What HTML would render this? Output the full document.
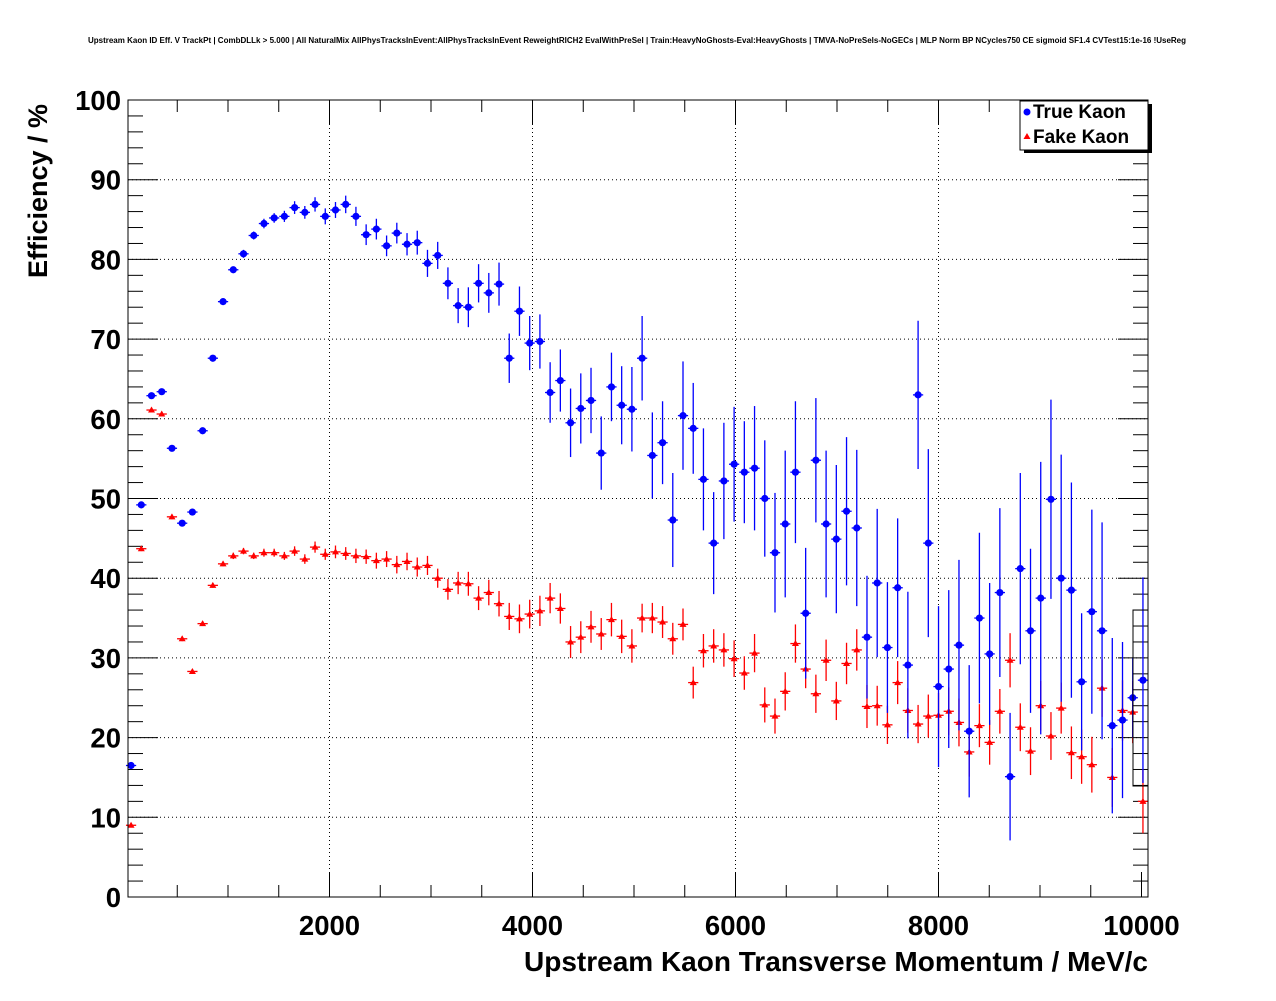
<!DOCTYPE html>
<html><head><meta charset="utf-8"><style>
html,body{margin:0;padding:0;background:#fff;}
svg text{font-family:"Liberation Sans",Arial,sans-serif;}
</style></head><body>
<svg id="chart" width="1276" height="996" viewBox="0 0 1276 996" xmlns="http://www.w3.org/2000/svg">
<rect x="0" y="0" width="1276" height="996" fill="#fff"/>
<text x="637" y="43" font-size="8" font-weight="bold" text-anchor="middle">Upstream Kaon ID Eff. V TrackPt | CombDLLk &gt; 5.000 | All NaturalMix AllPhysTracksInEvent:AllPhysTracksInEvent ReweightRICH2 EvalWithPreSel | Train:HeavyNoGhosts-Eval:HeavyGhosts | TMVA-NoPreSels-NoGECs | MLP Norm BP NCycles750 CE sigmoid SF1.4 CVTest15:1e-16 !UseReg</text>
<g id="grid"></g>
<g id="axes"></g>
<g id="series"></g>
<rect x="128" y="100" width="1020" height="797" fill="none" stroke="#000" stroke-width="1"/>
<rect x="1133" y="610" width="15" height="176" fill="none" stroke="#000" stroke-width="1"/>
<text transform="translate(47,278) rotate(-90)" font-size="27" font-weight="bold">Efficiency / %</text>
<text x="1148" y="971" font-size="28" font-weight="bold" text-anchor="end">Upstream Kaon Transverse Momentum / MeV/c</text>
<g>
<rect x="1024" y="104" width="128" height="49" fill="#000"/>
<rect x="1020" y="101" width="128" height="49" fill="#fff" stroke="#000" stroke-width="1"/>
<circle cx="1027" cy="112" r="3.5" fill="#0000ff"/>
<text x="1033" y="118" font-size="19" font-weight="bold">True Kaon</text>
<polygon points="1027,133 1023.5,139 1030.5,139" fill="#ff0000"/>
<text x="1033" y="143" font-size="19" font-weight="bold">Fake Kaon</text>
</g>
</svg>
<script>
const trueVals=[16.5,49.2,62.9,63.4,56.3,46.9,48.3,58.5,67.6,74.7,78.7,80.7,83.0,84.5,85.2,85.4,86.5,85.9,86.9,85.4,86.2,86.9,85.4,83.1,83.8,
81.7,83.3,81.9,82.1,79.5,80.5,77.0,74.2,74.0,77.0,75.8,76.9,67.6,73.5,69.5,69.7,63.3,64.8,59.5,61.3,62.3,55.7,64.0,61.7,61.2,
67.6,55.4,57.0,47.3,60.4,58.8,52.4,44.4,52.2,54.3,53.3,53.8,50.0,43.2,46.8,53.3,35.6,54.8,46.8,44.9,48.4,46.3,32.6,39.4,31.3,
38.8,29.1,63.0,44.4,26.4,28.6,31.6,20.8,35.0,30.5,38.2,15.1,41.2,33.4,37.5,49.9,40.0,38.5,27.0,35.8,33.4,21.5,22.2,25.0,27.2];
const trueErrs=[0.3,0.4,0.4,0.4,0.4,0.4,0.4,0.4,0.4,0.4,0.4,0.5,0.5,0.6,0.6,0.7,0.8,0.8,0.9,1.0,1.0,1.1,1.2,1.3,1.3,
1.3,1.3,1.4,1.5,1.7,1.7,2.0,2.2,2.5,2.4,2.5,2.7,3.1,3.1,3.4,3.4,3.8,3.9,4.3,4.4,4.1,4.6,4.3,4.9,5.3,
5.3,5.4,5.2,5.9,6.8,5.7,6.4,6.4,7.3,7.2,6.4,7.8,7.3,7.5,9.2,8.9,8.2,7.8,9.2,9.3,9.3,9.8,7.7,9.3,8.2,
8.7,9.2,9.3,11.8,10.1,9.9,10.7,8.3,10.7,8.9,10.6,8.0,12.0,10.3,17.1,12.5,15.5,13.5,8.6,12.8,13.6,11.0,9.8,5.0,12.9];
const fakeVals=[9.0,43.7,61.1,60.6,47.7,32.4,28.3,34.3,39.1,41.8,42.8,43.4,42.8,43.2,43.2,42.8,43.4,42.4,43.9,43.0,43.3,43.1,42.8,42.7,42.2,
42.4,41.7,42.1,41.4,41.6,40.0,38.6,39.4,39.3,37.5,38.2,36.8,35.2,34.9,35.5,35.9,37.5,36.2,32.0,32.6,33.9,33.0,34.8,32.7,31.5,
35.0,35.0,34.5,32.4,34.2,26.9,30.9,31.5,31.0,29.9,28.1,30.6,24.1,22.7,25.8,31.8,28.6,25.5,29.7,24.6,29.3,31.0,23.9,24.0,21.6,
26.9,23.4,21.7,22.7,22.8,23.3,21.9,18.2,21.5,19.4,23.3,29.7,21.3,18.3,24.0,20.2,23.7,18.1,17.6,16.6,26.2,15.0,23.4,23.2,12.0];
const fakeErrs=[0.2,0.3,0.3,0.3,0.3,0.3,0.3,0.3,0.3,0.3,0.4,0.4,0.4,0.5,0.5,0.5,0.6,0.6,0.7,0.7,0.8,0.8,0.9,0.9,1.0,
1.0,1.1,1.1,1.2,1.2,1.2,1.3,1.4,1.5,1.5,1.6,1.6,1.7,1.8,1.8,1.9,1.9,1.9,2.0,2.0,2.0,2.0,2.1,2.1,2.1,
1.8,1.9,2.0,2.0,2.0,2.0,2.1,2.1,2.1,2.3,2.1,2.4,2.2,2.2,2.4,2.4,2.4,2.4,2.6,2.4,2.6,2.6,2.7,2.5,2.4,
2.7,2.8,2.4,2.7,2.8,3.0,3.0,3.1,2.7,2.8,2.8,3.4,3.0,3.0,3.1,3.0,3.2,3.3,3.4,3.5,3.6,3.7,3.8,3.9,4.0];
const xTicks=[2000,4000,6000,8000,10000];
const yTicks=[0,10,20,30,40,50,60,70,80,90,100];
const binStart=45, binWidth=100.7;

const NS="http://www.w3.org/2000/svg";
const X0=126.5, XS=0.1015, XMIN=15, XMAX=10064;
const Y0=897, YS=7.97;
const px=v=>X0+v*XS, py=v=>Y0-v*YS;
function mk(tag,attrs,parent){const e=document.createElementNS(NS,tag);for(const k in attrs)e.setAttribute(k,attrs[k]);parent.appendChild(e);return e;}
const grid=document.getElementById('grid'),axes=document.getElementById('axes'),series=document.getElementById('series');
yTicks.forEach(v=>{
  const y=py(v);
  if(v>0&&v<100){const g=mk('line',{x1:128,x2:1148,y1:y,y2:y,stroke:'#000','stroke-width':1,'stroke-dasharray':'1,3'},grid);
  
  }
  const t=mk('text',{x:121,y:y+10,'font-size':27.5,'font-weight':'bold','text-anchor':'end'},axes);
  t.textContent=v;
  
  
});
for(let v=0;v<=100;v+=2){const y=py(v);const L=(v%10===0)?30:15;
  mk('line',{x1:128,x2:128+L,y1:y,y2:y,stroke:'#000','stroke-width':1},axes);
  mk('line',{x1:1148-L,x2:1148,y1:y,y2:y,stroke:'#000','stroke-width':1},axes);}
xTicks.forEach(v=>{
  const x=px(v);
  if(v<XMAX-100){const g=mk('line',{x1:x,x2:x,y1:100,y2:897,stroke:'#000','stroke-width':1,'stroke-dasharray':'1,3'},grid);
  
  }
  const t=mk('text',{x:x,y:935,'font-size':27.5,'font-weight':'bold','text-anchor':'middle'},axes);
  t.textContent=v;
  
  
});
for(let v=500;v<XMAX;v+=500){const x=px(v);const L=(v%2000===0)?25:12;
  mk('line',{x1:x,x2:x,y1:897-L,y2:897,stroke:'#000','stroke-width':1},axes);
  mk('line',{x1:x,x2:x,y1:100,y2:100+L,stroke:'#000','stroke-width':1},axes);}
function clipY(y){return Math.max(100,Math.min(897,y));}
function drawSeries(vals,errs,color,shape,name){
  vals.forEach((v,i)=>{
    const xc=binStart+binWidth*i, x=px(xc), y=py(v);
    const g=mk('g',{},series);
    
    
    const hw=binWidth*XS/2;
    mk('line',{x1:x-hw,x2:x+hw,y1:y,y2:y,stroke:color,'stroke-width':1.3},g);
    mk('line',{x1:x,x2:x,y1:clipY(py(v+errs[i])),y2:clipY(py(v-errs[i])),stroke:color,'stroke-width':1.3},g);
    if(shape==='circle') mk('circle',{cx:x,cy:y,r:3.6,fill:color},g);
    else mk('polygon',{points:`${x},${y-3.5} ${x-3.5},${y+2.5} ${x+3.5},${y+2.5}`,fill:color},g);
  });
}
drawSeries(fakeVals,fakeErrs,'#ff0000','tri','fake-kaon');
drawSeries(trueVals,trueErrs,'#0000ff','circle','true-kaon');
</script>
</body></html>
